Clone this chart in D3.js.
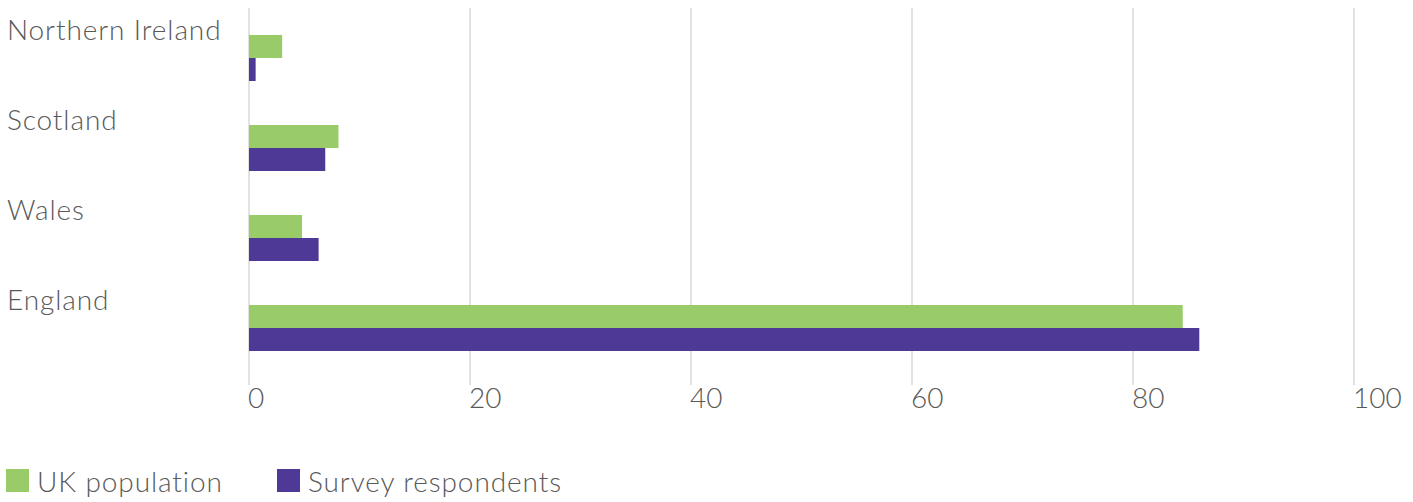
<!DOCTYPE html>
<html>
<head>
<meta charset="utf-8">
<script src="https://cdn.jsdelivr.net/npm/d3@7"></script>
<style>
  body { margin: 0; background: #fff; }
  svg text { font-family: "Lato", "Open Sans", sans-serif; font-weight: 300; fill: #595959; }
  .label { letter-spacing: 0.9px; }
</style>
</head>
<body>
<div id="chart"></div>
<script>
// data (percent)
let regions = ["Northern Ireland", "Scotland", "Wales", "England"];
let series = ["UK population", "Survey respondents"];
let ukPopulation = [3.0, 8.1, 4.8, 84.5];
let surveyRespondents = [0.6, 6.9, 6.3, 86.0];
let xTicks = [0, 20, 40, 60, 80, 100];

let colors = ["#99cb69", "#4f3996"];

let width = 1413, height = 502;

let svg = d3.select("#chart").append("svg")
    .attr("width", width)
    .attr("height", height);

let x = d3.scaleLinear()
    .domain([0, 100])
    .range([249, 1354]);

let y = d3.scaleBand()
    .domain(regions)
    .range([13, 373])
    .paddingInner(0.4889)
    .paddingOuter(0.2444);

let ySub = d3.scaleBand()
    .domain(series)
    .range([0, y.bandwidth()]);

let color = d3.scaleOrdinal().domain(series).range(colors);

// gridlines
svg.append("g")
    .selectAll("line")
    .data(xTicks)
    .join("line")
    .attr("x1", d => x(d))
    .attr("x2", d => x(d))
    .attr("y1", 8)
    .attr("y2", 385)
    .attr("stroke", "#d9d9d9")
    .attr("stroke-width", 1.5);

// tick labels
svg.append("g")
    .selectAll("text")
    .data(xTicks)
    .join("text")
    .attr("x", d => x(d) - 1)
    .attr("y", 408)
    .attr("font-size", 28)
    .text(d => d);

// bars
let rows = regions.map((r, i) => ({ region: r, values: [ukPopulation[i], surveyRespondents[i]] }));

let groups = svg.append("g")
    .selectAll("g")
    .data(rows)
    .join("g")
    .attr("transform", d => "translate(0," + y(d.region) + ")");

groups.selectAll("rect")
    .data(d => d.values.map((v, i) => ({ key: series[i], value: v })))
    .join("rect")
    .attr("x", x(0))
    .attr("y", d => ySub(d.key))
    .attr("width", d => x(d.value) - x(0))
    .attr("height", ySub.bandwidth())
    .attr("fill", d => color(d.key));

// category labels
svg.append("g")
    .selectAll("text")
    .data(regions)
    .join("text")
    .attr("class", "label")
    .attr("x", 7)
    .attr("y", d => y(d) + 5)
    .attr("font-size", 28)
    .text(d => d);

// legend
let legendX = [6, 277];
let legend = svg.append("g")
    .selectAll("g")
    .data(series)
    .join("g")
    .attr("transform", (d, i) => "translate(" + legendX[i] + ",469)");

legend.append("rect")
    .attr("width", 23)
    .attr("height", 23)
    .attr("fill", d => color(d));

legend.append("text")
    .attr("class", "label")
    .attr("x", 31)
    .attr("y", 23)
    .attr("font-size", 28)
    .text(d => d);
</script>
</body>
</html>
